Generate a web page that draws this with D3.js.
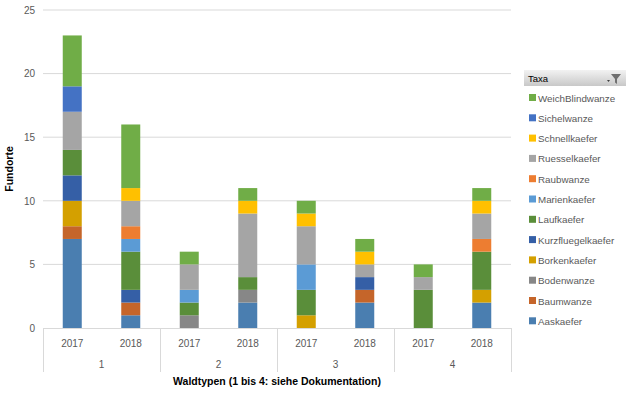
<!DOCTYPE html>
<html>
<head>
<meta charset="utf-8">
<script src="https://cdn.jsdelivr.net/npm/d3@7"></script>
<style>
  body { margin: 0; background: #fff; }
  svg { font-family: "Liberation Sans", "DejaVu Sans", sans-serif; }
</style>
</head>
<body>
<svg id="chart" width="626" height="395"></svg>
<script>
// Kategorien: Waldtyp + Jahr
var groups = ['1', '2', '3', '4'];
var years = ['2017', '2018'];

// Taxa von unten nach oben
var taxa = ['Aaskaefer', 'Baumwanze', 'Bodenwanze', 'Borkenkaefer', 'Kurzfluegelkaefer', 'Laufkaefer',
  'Marienkaefer', 'Raubwanze', 'Ruesselkaefer', 'Schnellkaefer', 'Sichelwanze', 'WeichBlindwanze'];
var taxaColors = ['#4a7eb0', '#c5652a', '#878787', '#d4a000', '#355fa6', '#5a8e3a',
  '#5b9bd5', '#ed7d31', '#a5a5a5', '#ffc000', '#4472c4', '#70ad47'];

// Werte je Balken (1/2017, 1/2018, 2/2017, ... 4/2018)
var Aaskaefer         = [7, 1, 0, 2, 0, 2, 0, 2];
var Baumwanze         = [1, 1, 0, 0, 0, 1, 0, 0];
var Bodenwanze        = [0, 0, 1, 1, 0, 0, 0, 0];
var Borkenkaefer      = [2, 0, 0, 0, 1, 0, 0, 1];
var Kurzfluegelkaefer = [2, 1, 0, 0, 0, 1, 0, 0];
var Laufkaefer        = [2, 3, 1, 1, 2, 0, 3, 3];
var Marienkaefer      = [0, 1, 1, 0, 2, 0, 0, 0];
var Raubwanze         = [0, 1, 0, 0, 0, 0, 0, 1];
var Ruesselkaefer     = [3, 2, 2, 5, 3, 1, 1, 2];
var Schnellkaefer     = [0, 1, 0, 1, 1, 1, 0, 1];
var Sichelwanze       = [2, 0, 0, 0, 0, 0, 0, 0];
var WeichBlindwanze   = [4, 5, 1, 1, 1, 1, 1, 1];

var yTicks = [0, 5, 10, 15, 20, 25];

var seriesValues = [Aaskaefer, Baumwanze, Bodenwanze, Borkenkaefer, Kurzfluegelkaefer, Laufkaefer,
  Marienkaefer, Raubwanze, Ruesselkaefer, Schnellkaefer, Sichelwanze, WeichBlindwanze];

// Tabelle für d3.stack bauen
var rows = [];
groups.forEach(function(g, gi){
  years.forEach(function(y, yi){
    var idx = gi * 2 + yi;
    var row = { key: g + '-' + y, group: g, year: y };
    taxa.forEach(function(t, ti){ row[t] = seriesValues[ti][idx]; });
    rows.push(row);
  });
});

var svg = d3.select('#chart');
var plot = { left: 43, right: 511, top: 10, bottom: 328 };
var textColor = '#595959';

var y = d3.scaleLinear().domain([0, 25]).range([plot.bottom, plot.top]);
var xGroup = d3.scaleBand().domain(groups).range([plot.left, plot.right]);
var xBar = d3.scaleBand().domain(years).range([0, xGroup.bandwidth()]).paddingInner(0).paddingOuter(0);
var barWidth = 19;

// Gitterlinien
svg.append('g').selectAll('line')
  .data(yTicks.filter(function(d){ return d > 0; }))
  .join('line')
  .attr('x1', plot.left).attr('x2', plot.right)
  .attr('y1', function(d){ return y(d); }).attr('y2', function(d){ return y(d); })
  .attr('stroke', '#d9d9d9').attr('stroke-width', 1);

// Y-Achse Beschriftung
var yAxis = d3.axisLeft(y).tickValues(yTicks).tickSize(0).tickPadding(8);
var gy = svg.append('g').attr('transform', 'translate(' + plot.left + ',0)').call(yAxis);
gy.select('.domain').remove();
gy.selectAll('text').attr('fill', textColor).style('font-size', '10px');

// Balken
var stack = d3.stack().keys(taxa);
var layers = stack(rows);

svg.append('g').selectAll('g')
  .data(layers)
  .join('g')
  .attr('fill', function(d, i){ return taxaColors[i]; })
  .selectAll('rect')
  .data(function(d){ return d; })
  .join('rect')
  .attr('x', function(d){ return xGroup(d.data.group) + xBar(d.data.year) + xBar.bandwidth() / 2 - barWidth / 2; })
  .attr('y', function(d){ return y(d[1]); })
  .attr('width', barWidth)
  .attr('height', function(d){ return y(d[0]) - y(d[1]); });

// X-Achse (mehrstufig)
var axisG = svg.append('g');
axisG.append('line')
  .attr('x1', plot.left).attr('x2', plot.right)
  .attr('y1', plot.bottom + 0.5).attr('y2', plot.bottom + 0.5)
  .attr('stroke', '#d9d9d9');

var seps = groups.map(function(g){ return xGroup(g); }).concat([plot.right]);
axisG.selectAll('line.sep')
  .data(seps)
  .join('line')
  .attr('class', 'sep')
  .attr('x1', function(d){ return Math.round(d) + 0.5; }).attr('x2', function(d){ return Math.round(d) + 0.5; })
  .attr('y1', plot.bottom).attr('y2', 372)
  .attr('stroke', '#d9d9d9');

axisG.selectAll('text.year')
  .data(rows)
  .join('text')
  .attr('class', 'year')
  .attr('x', function(d){ return xGroup(d.group) + xBar(d.year) + xBar.bandwidth() / 2; })
  .attr('y', 347)
  .attr('text-anchor', 'middle')
  .attr('fill', textColor)
  .style('font-size', '10px')
  .text(function(d){ return d.year; });

axisG.selectAll('text.grp')
  .data(groups)
  .join('text')
  .attr('class', 'grp')
  .attr('x', function(d){ return xGroup(d) + xGroup.bandwidth() / 2; })
  .attr('y', 368)
  .attr('text-anchor', 'middle')
  .attr('fill', textColor)
  .style('font-size', '10px')
  .text(function(d){ return d; });

// Achsentitel
svg.append('text')
  .attr('x', (plot.left + plot.right) / 2 + 0)
  .attr('y', 385)
  .attr('text-anchor', 'middle')
  .attr('fill', '#000')
  .style('font-size', '10.5px')
  .style('font-weight', 'bold')
  .text('Waldtypen (1 bis 4: siehe Dokumentation)');

svg.append('text')
  .attr('transform', 'translate(13,' + ((plot.top + plot.bottom) / 2) + ') rotate(-90)')
  .attr('text-anchor', 'middle')
  .attr('fill', '#000')
  .style('font-size', '10.5px')
  .style('font-weight', 'bold')
  .text('Fundorte');

// Legende
var defs = svg.append('defs');
var grad = defs.append('linearGradient').attr('id', 'hdr').attr('x1', 0).attr('y1', 0).attr('x2', 0).attr('y2', 1);
grad.append('stop').attr('offset', '0%').attr('stop-color', '#f2f2f2');
grad.append('stop').attr('offset', '100%').attr('stop-color', '#c8c8c8');

var lg = svg.append('g').attr('transform', 'translate(524,70)');
lg.append('rect').attr('x', 0).attr('y', 0).attr('width', 102).attr('height', 16).attr('fill', 'url(#hdr)');
lg.append('text').attr('x', 4).attr('y', 11.5).attr('fill', '#000').style('font-size', '9.5px').text('Taxa');
// Filter-Symbol
lg.append('path').attr('d', 'M83,10 h3 l-1.5,2 z').attr('fill', '#404040');
lg.append('path').attr('d', 'M87,4 h10 l-4,5 v5 l-2,-1.5 v-3.5 z').attr('fill', '#707070');

var legendItems = taxa.slice().reverse();
var legendColors = taxaColors.slice().reverse();
var item = lg.selectAll('g.item')
  .data(legendItems)
  .join('g')
  .attr('class', 'item')
  .attr('transform', function(d, i){ return 'translate(0,' + (28 + i * 20.3) + ')'; });
item.append('rect')
  .attr('x', 5).attr('y', -4).attr('width', 7).attr('height', 7)
  .attr('fill', function(d, i){ return legendColors[i]; });
item.append('text')
  .attr('x', 14).attr('y', 3.5)
  .attr('fill', textColor)
  .style('font-size', '9.8px')
  .text(function(d){ return d; });
</script>
</body>
</html>
